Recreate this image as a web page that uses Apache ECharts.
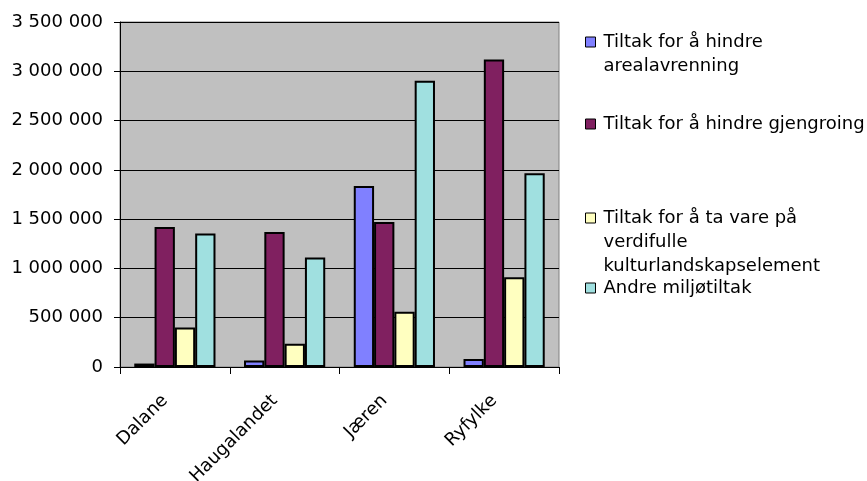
<!DOCTYPE html>
<html>
<head>
<meta charset="utf-8">
<script src="https://cdn.jsdelivr.net/npm/echarts@6/dist/echarts.min.js"></script>
<style>
html,body{margin:0;padding:0;background:#fff;}
#c{width:867px;height:481px;}
</style>
</head>
<body>
<div id="c"></div>
<script>
var categories = ['Dalane', 'Haugalandet', 'Jæren', 'Ryfylke'];
var seriesNames = [
  'Tiltak for å hindre arealavrenning',
  'Tiltak for å hindre gjengroing',
  'Tiltak for å ta vare på verdifulle kulturlandskapselement',
  'Andre miljøtiltak'
];
var legendLabels = [
  'Tiltak for å hindre\narealavrenning',
  'Tiltak for å hindre gjengroing',
  'Tiltak for å ta vare på\nverdifulle\nkulturlandskapselement',
  'Andre miljøtiltak'
];
var arealavrenning = [35000, 65000, 1835000, 80000];
var gjengroing = [1420000, 1370000, 1470000, 3120000];
var kulturlandskap = [400000, 235000, 560000, 910000];
var andreMiljotiltak = [1355000, 1110000, 2905000, 1965000];
var yTicks = { min: 0, max: 3500000, interval: 500000 };

var colors = ['#8080FF', '#802060', '#FFFFC0', '#A0E0E0'];
var values = [arealavrenning, gjengroing, kulturlandskap, andreMiljotiltak];
var FONT = 'DejaVu Sans';
var FS = 18;
var LH = 24;

function fmt(v) {
  return String(v).replace(/\B(?=(\d{3})+(?!\d))/g, ' ');
}

var legendCenters = [42, 124, 218, 288];
var legends = seriesNames.map(function (name, i) {
  var lines = legendLabels[i].split('\n');
  var n = lines.length;
  var pad = '';
  for (var k = 0; k < n - 1; k++) pad += '\n';
  var total = n + (n - 1);
  return {
    data: [name],
    orient: 'vertical',
    left: 585,
    top: legendCenters[i] - total * LH / 2,
    padding: 0,
    itemWidth: 10,
    itemHeight: 10,
    icon: 'rect',
    selectedMode: false,
    itemStyle: { borderColor: '#000', borderWidth: 1 },
    textStyle: { fontFamily: FONT, fontSize: FS, color: '#000', lineHeight: LH, padding: [0, 0, 0, 3] },
    formatter: function () { return pad + legendLabels[i]; }
  };
});

var chart = echarts.init(document.getElementById('c'), null, { renderer: 'canvas' });
chart.setOption({
  backgroundColor: '#fff',
  animation: false,
  textStyle: { fontFamily: FONT },
  grid: {
    left: 120, top: 22, right: 308, bottom: 114,
    containLabel: false, outerBoundsMode: 'none',
    show: true, backgroundColor: '#C0C0C0', borderColor: '#808080', borderWidth: 1
  },
  legend: legends,
  xAxis: {
    type: 'category',
    data: categories,
    boundaryGap: true,
    axisLine: { lineStyle: { color: '#000', width: 1 } },
    axisTick: { show: true, length: 7, lineStyle: { color: '#000' } },
    axisLabel: { rotate: 45, margin: 21, padding: [0, 14, 0, 0], fontFamily: FONT, fontSize: FS, color: '#000' },
    splitLine: { show: false }
  },
  yAxis: {
    type: 'value',
    min: yTicks.min, max: yTicks.max, interval: yTicks.interval,
    axisLine: { show: true, lineStyle: { color: '#000', width: 1 } },
    axisTick: { show: true, length: 6, lineStyle: { color: '#000' } },
    axisLabel: { margin: 17, fontFamily: FONT, fontSize: FS, color: '#000', formatter: fmt },
    splitLine: { show: true, lineStyle: { color: '#000', width: 1 } }
  },
  series: seriesNames.map(function (name, i) {
    return {
      name: name,
      type: 'bar',
      data: values[i],
      barGap: '0%',
      barCategoryGap: '26%',
      itemStyle: { color: colors[i], borderColor: '#000', borderWidth: 2 },
      emphasis: { disabled: true }
    };
  })
});
</script>
</body>
</html>
